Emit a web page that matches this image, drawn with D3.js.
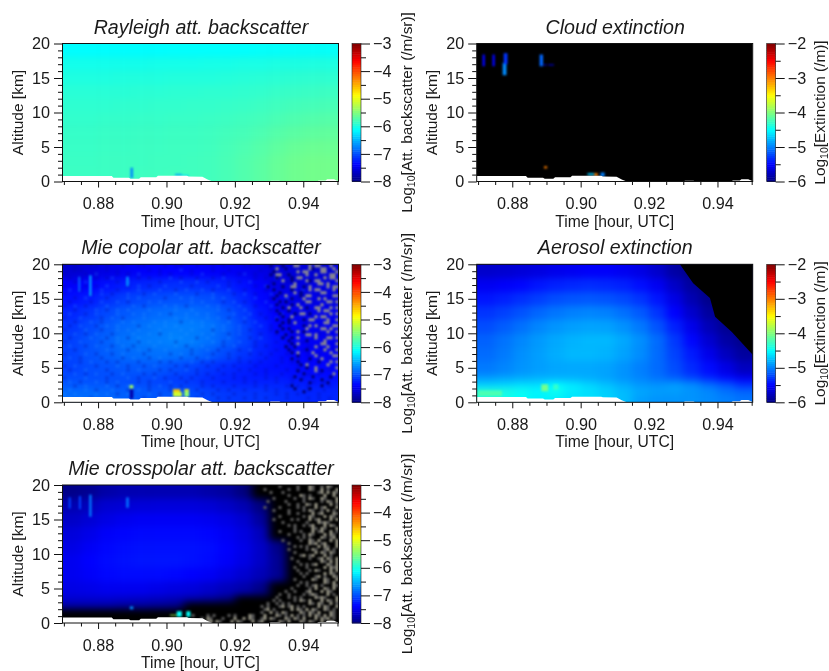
<!DOCTYPE html>
<html lang="en">
<head>
<meta charset="utf-8"/>
<script src="https://d3js.org/d3.v7.min.js"></script>
<style>
    body { margin: 0; background: #fff; }
    svg { display: block; filter: blur(0.35px); }
    text { font-family: "Liberation Sans", sans-serif; fill: #1a1a1a; }
    .tick line { stroke: #111; }
</style>
</head>
<body>
<svg id="chart" width="829" height="671"></svg>
<script>
// time / altitude edges of the coarse value grids
const gridTimes = [0.87, 0.875, 0.88, 0.885, 0.89, 0.895, 0.90, 0.905, 0.91, 0.915, 0.92, 0.925, 0.93, 0.935, 0.94, 0.945, 0.95];
const gridAlts = [20, 18, 16, 14, 12, 10, 8, 6, 4, 3, 2, 1, 0];

// log10 values, rows go from top (20 km) to the ground
const rayleighGrid = [
    [-6.13, -6.13, -6.13, -6.13, -6.13, -6.13, -6.12, -6.12, -6.12, -6.12, -6.12, -6.11, -6.11, -6.10, -6.10, -6.10],
    [-6.03, -6.03, -6.03, -6.03, -6.03, -6.02, -6.02, -6.02, -6.01, -6.01, -6.00, -6.00, -5.99, -5.99, -5.98, -5.98],
    [-5.98, -5.98, -5.98, -5.97, -5.97, -5.97, -5.96, -5.96, -5.96, -5.95, -5.94, -5.93, -5.92, -5.91, -5.90, -5.90],
    [-5.93, -5.93, -5.93, -5.93, -5.92, -5.92, -5.91, -5.91, -5.90, -5.90, -5.89, -5.88, -5.86, -5.85, -5.84, -5.83],
    [-5.90, -5.90, -5.90, -5.89, -5.89, -5.88, -5.88, -5.87, -5.87, -5.86, -5.85, -5.83, -5.81, -5.79, -5.78, -5.77],
    [-5.88, -5.88, -5.87, -5.87, -5.86, -5.86, -5.85, -5.85, -5.84, -5.83, -5.81, -5.79, -5.76, -5.74, -5.72, -5.71],
    [-5.86, -5.86, -5.85, -5.85, -5.84, -5.84, -5.83, -5.83, -5.82, -5.80, -5.78, -5.75, -5.71, -5.68, -5.66, -5.65],
    [-5.85, -5.85, -5.84, -5.84, -5.83, -5.83, -5.82, -5.82, -5.81, -5.78, -5.75, -5.71, -5.66, -5.62, -5.60, -5.60],
    [-5.84, -5.84, -5.83, -5.83, -5.83, -5.82, -5.82, -5.81, -5.80, -5.77, -5.73, -5.69, -5.63, -5.59, -5.57, -5.57],
    [-5.84, -5.84, -5.83, -5.83, -5.83, -5.82, -5.82, -5.81, -5.80, -5.77, -5.73, -5.68, -5.62, -5.58, -5.56, -5.56],
    [-5.83, -5.83, -5.83, -5.83, -5.82, -5.82, -5.81, -5.81, -5.80, -5.77, -5.73, -5.68, -5.62, -5.58, -5.56, -5.56],
    [-5.83, -5.83, -5.83, -5.83, -5.82, -5.82, -5.81, -5.81, -5.80, -5.77, -5.73, -5.68, -5.62, -5.58, -5.56, -5.56]
];
const copolarGrid = [
    [-7.60, -7.55, -7.50, -7.45, -7.40, -7.38, -7.38, -7.38, -7.40, -7.42, -7.45, -7.50, -7.55, -7.55, -7.55, -7.55],
    [-7.40, -7.38, -7.30, -7.25, -7.20, -7.18, -7.15, -7.15, -7.18, -7.22, -7.30, -7.40, -7.50, -7.50, -7.50, -7.50],
    [-7.30, -7.25, -7.15, -7.08, -7.03, -7.00, -6.98, -6.98, -7.00, -7.08, -7.20, -7.35, -7.45, -7.48, -7.48, -7.50],
    [-7.20, -7.12, -7.02, -6.95, -6.90, -6.86, -6.84, -6.84, -6.88, -6.97, -7.10, -7.28, -7.40, -7.45, -7.45, -7.45],
    [-7.12, -7.02, -6.94, -6.86, -6.82, -6.78, -6.76, -6.76, -6.80, -6.90, -7.05, -7.22, -7.35, -7.40, -7.45, -7.45],
    [-7.06, -6.98, -6.90, -6.82, -6.78, -6.76, -6.74, -6.76, -6.82, -6.92, -7.05, -7.20, -7.30, -7.38, -7.42, -7.45],
    [-7.05, -6.98, -6.92, -6.86, -6.84, -6.82, -6.82, -6.86, -6.94, -7.02, -7.12, -7.22, -7.30, -7.35, -7.40, -7.42],
    [-7.05, -7.00, -6.98, -6.95, -6.95, -6.95, -7.00, -7.05, -7.12, -7.18, -7.22, -7.28, -7.30, -7.32, -7.35, -7.35],
    [-7.00, -7.00, -7.00, -7.00, -7.02, -7.05, -7.10, -7.12, -7.18, -7.22, -7.25, -7.25, -7.25, -7.28, -7.30, -7.30],
    [-6.95, -6.95, -6.95, -6.98, -7.00, -7.02, -7.05, -7.08, -7.15, -7.18, -7.20, -7.20, -7.20, -7.22, -7.25, -7.25],
    [-6.85, -6.85, -6.88, -6.90, -6.92, -6.95, -6.95, -7.00, -7.05, -7.10, -7.12, -7.12, -7.15, -7.18, -7.20, -7.20],
    [-6.85, -6.85, -6.88, -6.90, -6.95, -6.95, -6.95, -7.00, -7.05, -7.10, -7.12, -7.12, -7.15, -7.18, -7.20, -7.20]
];
const crosspolarGrid = [
    [-7.95, -7.90, -7.80, -7.75, -7.75, -7.75, -7.75, -7.75, -7.80, -7.85, -8.00, -8.40, -9.00, -9.00, -9.00, -9.00],
    [-7.75, -7.70, -7.60, -7.58, -7.56, -7.55, -7.55, -7.55, -7.58, -7.65, -7.75, -8.00, -8.60, -9.00, -9.00, -9.00],
    [-7.65, -7.58, -7.50, -7.45, -7.42, -7.42, -7.42, -7.42, -7.45, -7.50, -7.60, -7.85, -8.40, -9.00, -9.00, -9.00],
    [-7.55, -7.48, -7.40, -7.36, -7.34, -7.34, -7.34, -7.34, -7.36, -7.42, -7.52, -7.70, -8.10, -8.80, -9.00, -9.00],
    [-7.50, -7.42, -7.35, -7.32, -7.30, -7.30, -7.30, -7.30, -7.32, -7.38, -7.48, -7.65, -7.95, -8.50, -9.00, -9.00],
    [-7.45, -7.38, -7.33, -7.30, -7.28, -7.28, -7.28, -7.30, -7.33, -7.40, -7.50, -7.65, -7.90, -8.30, -9.00, -9.00],
    [-7.45, -7.40, -7.35, -7.33, -7.33, -7.33, -7.35, -7.38, -7.42, -7.50, -7.60, -7.72, -7.90, -8.30, -9.00, -9.00],
    [-7.50, -7.48, -7.45, -7.45, -7.45, -7.48, -7.52, -7.55, -7.62, -7.70, -7.78, -7.95, -8.30, -8.90, -9.00, -9.00],
    [-7.60, -7.60, -7.60, -7.62, -7.65, -7.68, -7.72, -7.80, -7.88, -8.00, -8.20, -8.70, -9.00, -9.00, -9.00, -9.00],
    [-7.80, -7.80, -7.80, -7.85, -7.85, -7.90, -7.95, -8.05, -8.30, -8.70, -9.00, -9.00, -9.00, -9.00, -9.00, -9.00],
    [-8.60, -8.60, -8.70, -8.80, -8.80, -8.80, -8.70, -8.90, -9.00, -9.00, -9.00, -9.00, -9.00, -9.00, -9.00, -9.00],
    [-9.00, -9.00, -9.00, -9.00, -9.00, -9.00, -9.00, -9.00, -9.00, -9.00, -9.00, -9.00, -9.00, -9.00, -9.00, -9.00]
];
const aerosolGrid = [
    [-5.70, -5.68, -5.65, -5.62, -5.58, -5.55, -5.52, -5.52, -5.55, -5.60, -5.70, -5.85, -5.95, -6.00, -6.00, -6.00],
    [-5.55, -5.52, -5.48, -5.42, -5.38, -5.35, -5.33, -5.35, -5.38, -5.45, -5.55, -5.72, -5.88, -5.98, -6.00, -6.00],
    [-5.42, -5.38, -5.32, -5.26, -5.20, -5.17, -5.16, -5.18, -5.22, -5.30, -5.42, -5.60, -5.80, -5.95, -6.00, -6.00],
    [-5.30, -5.25, -5.18, -5.10, -5.04, -5.00, -4.98, -5.00, -5.06, -5.15, -5.30, -5.50, -5.70, -5.88, -5.98, -6.00],
    [-5.20, -5.14, -5.06, -4.98, -4.92, -4.88, -4.86, -4.87, -4.93, -5.03, -5.18, -5.38, -5.58, -5.78, -5.92, -5.98],
    [-5.12, -5.05, -4.97, -4.90, -4.84, -4.80, -4.78, -4.78, -4.84, -4.94, -5.08, -5.28, -5.48, -5.68, -5.85, -5.95],
    [-5.08, -5.02, -4.94, -4.88, -4.82, -4.78, -4.78, -4.80, -4.86, -4.95, -5.08, -5.24, -5.40, -5.58, -5.75, -5.88],
    [-5.02, -4.98, -4.92, -4.88, -4.85, -4.84, -4.84, -4.86, -4.92, -5.00, -5.08, -5.20, -5.34, -5.46, -5.60, -5.75],
    [-4.88, -4.85, -4.82, -4.80, -4.80, -4.80, -4.82, -4.86, -4.92, -4.98, -5.05, -5.12, -5.22, -5.34, -5.45, -5.55],
    [-4.68, -4.66, -4.62, -4.62, -4.50, -4.58, -4.66, -4.74, -4.82, -4.90, -4.92, -4.88, -4.94, -5.06, -5.16, -5.30],
    [-4.35, -4.38, -4.45, -4.52, -4.45, -4.58, -4.62, -4.68, -4.76, -4.84, -4.88, -4.88, -4.92, -4.96, -5.05, -5.10],
    [-4.40, -4.45, -4.50, -4.55, -4.55, -4.60, -4.62, -4.68, -4.76, -4.88, -4.92, -4.92, -4.92, -4.96, -5.00, -5.05]
];

// small features: [t0, t1, z0, z1, value]
const rayleighSpots = [[0.8895, 0.8902, 0.5, 2.0, -6.75], [0.9025, 0.9045, 0.85, 1.1, -6.6], [0.9045, 0.9065, 0.75, 0.95, -6.3]];
const cloudSpots = [
    [0.8713, 0.8720, 16.7, 18.4, -5.5], [0.8742, 0.8749, 16.7, 18.4, -5.5], [0.8772, 0.8783, 15.4, 17.2, -4.95],
    [0.8775, 0.8786, 17.0, 18.6, -5.3], [0.8880, 0.8890, 16.7, 18.4, -5.1], [0.8892, 0.8900, 16.8, 17.0, -5.7],
    [0.8905, 0.8922, 16.8, 17.0, -5.8], [0.8893, 0.8902, 1.9, 2.2, -3.0], [0.9020, 0.9040, 0.9, 1.2, -4.7],
    [0.9040, 0.9050, 0.8, 1.2, -3.0], [0.9058, 0.9070, 0.7, 1.3, -5.0]
];
const copolarSpots = [
    [0.8742, 0.8748, 16.0, 18.2, -6.9], [0.8774, 0.8781, 15.4, 18.4, -6.6], [0.8882, 0.8890, 16.8, 18.2, -6.7],
    [0.8893, 0.8903, 0.5, 1.9, -7.8], [0.8892, 0.8903, 2.0, 2.5, -5.3], [0.9019, 0.9045, 0.8, 1.5, -5.1],
    [0.9019, 0.9040, 1.5, 1.9, -4.6], [0.9052, 0.9066, 0.8, 1.6, -5.4], [0.9052, 0.9066, 1.6, 1.9, -5.0]
];
const crosspolarSpots = [
    [0.8714, 0.8720, 16.6, 18.2, -7.05], [0.8744, 0.8750, 16.5, 18.4, -7.05], [0.8774, 0.8781, 15.4, 18.6, -6.8],
    [0.8882, 0.8890, 16.7, 18.2, -6.85], [0.8893, 0.8903, 2.0, 2.4, -6.7], [0.9030, 0.9045, 0.9, 1.7, -6.1],
    [0.9058, 0.9070, 0.9, 1.7, -6.1], [0.9010, 0.9030, 1.05, 1.2, -5.3]
];
const aerosolSpots = [[0.8885, 0.8905, 1.6, 2.6, -4.05], [0.8920, 0.8935, 1.8, 2.6, -4.3], [0.8700, 0.8770, 0.9, 1.7, -4.2]];

// surface (white below the first range gate)
const surfaceTimes = [0.8696, 0.884, 0.8845, 0.889, 0.8895, 0.892, 0.8925, 0.897, 0.8975, 0.906, 0.9065, 0.9105, 0.912, 0.9135, 0.93, 0.9305, 0.933, 0.9335, 0.944, 0.9445, 0.9465, 0.947, 0.949, 0.9503];
const surfaceAlts = [0.78, 0.78, 0.55, 0.55, 0.4, 0.4, 0.62, 0.62, 0.82, 0.82, 0.72, 0.68, 0.3, 0, 0, 0.1, 0.1, 0, 0, 0.15, 0.15, 0.32, 0.32, 0.05];

// no-retrieval corner of aerosol extinction
const noDataTimes = [0.9290, 0.9329, 0.9378, 0.9393, 0.9442, 0.9503];
const noDataAlts = [20, 17.25, 15.1, 12.4, 10.2, 6.9];

// speckle, 3 px cells, rows top down and right aligned: # grey, + dim grey, d dark
const copolarSpeckle = [
    "..d...d...##...#.##...#..",
    "....#..d.......#d..##..#.",
    "...d.......#.##....##...#",
    "..d.##..d.....#..#....##.",
    "....d....d.##.......#.##.",
    "......#..d....#d.##.....#",
    "...d......#.......##.#...",
    ".d....d..##..d.#.....#.##",
    "...d.....d.....#.##....#.",
    ".....d....#.d......##....",
    "....d..#....d.##.......##",
    "...d.....d...#....#.#....",
    ".....d.d......##.....##.#",
    "....d....d.#.......#.....",
    "......d.#...#.d..##...#.#",
    "....d...d.........#.##...",
    ".....d....d.##.d......#.#",
    "......d..#.......#.##....",
    "....d...d....d.##....#..#",
    "......d.d.#.........##...",
    ".....d.......d.#.#.....##",
    "......d.d.....#....##.#..",
    "....d....d.#.d.......#..#",
    ".......d......##.#.......",
    "......d..d.#.....#...##.#",
    "........d.....d.....#....",
    ".........d.#.......##...#",
    ".......d..d......#...#...",
    "........d.....d.....#...#",
    ".........d.#....#.....#..",
    "...........d.....#.....##",
    ".........d.....d...#.....",
    "...........d......d...#.#",
    "............d.#......#...",
    "..............d..#......#",
    "...........d.....#.d.....",
    ".............d.........#.",
    "..........d.....d.....d..",
    "............d......d.....",
    "...............d.....d...",
    ".........d.........d.....",
    "..........d....d.........",
    ".............d...........",
    ".........................",
    ".........................",
    "........................."
];
const crosspolarSpeckle = [
    "......+.....+...#+..+.#+..",
    ".+.......+..+...#+..#.+..#",
    "...+...+...........+#.#.#+",
    ".........+...#+.+....#..#.",
    "....+......+..+.#+..#+...#",
    "..+.....+.....+.....+.#+.#",
    ".........+..+..#+.#....#.+",
    ".+....+.....+.+...#.+#...#",
    "....+....+....+.#+..+.#.+.",
    ".........+..+....#.+#...#+",
    "......+.......+.#+...#.#+.",
    "....+.....+.+...#.+#...#.#",
    ".......+.......+...#+#+...",
    ".........+.+..+.+#...#.#+.",
    "...........+.....#+.#+...#",
    "......+....+.+...#.+#..#.+",
    ".........+....+.#+...#.#+.",
    "............+.+.+...#+.+#.",
    ".......+.....+..#+.#...#.#",
    ".........+......#+#.+#...#",
    "...........+.+.+...#.#+..#",
    ".........+.....+.#+..+#.+.",
    "...........+......#.#+.#+.",
    ".............+#.+#...#.+..",
    "..........+.....+..+#.#+.#",
    "............+.......#+.#.#",
    ".............+.+.+#...#+.#",
    "...........+...+.....#.#+#",
    "............+...+.#+...#.#",
    ".............+.+.....#.#+.",
    "..............+...+#.+..#+",
    "...........+.....#+..#+..#",
    ".............+.+.....#+.#.",
    "............+..+.+#.+...#+",
    "..........+.....+.#..#+.#.",
    "........+..+...+#...#.#+..",
    "......+..+....+.+#+...#.+.",
    ".....+...+.+.+....#+#+...#",
    "....+.+....+.#+.#...#.#+.#",
    "..+..+.+.+......#+.#+..#.+",
    "+.+...+#.+#.+.+....#.#+..#",
    ".+#.+.....#.#+.#.#+..#+.+.",
    "+..#.+.#+....#+.#+.#...#+.",
    ".#...#+.+.#.+.+.#.#+.#.#+.",
    "+#.#+...#+.#+.#...#.#+#.+.",
    "#.....#+.#...#+.#+..#..#.."
];
const crosspolarLowSpeckle = [
    "+....+.+....+.+....#+..",
    "...+.#+...+...#..#.#+..",
    "#.+..+#.#+...#.#+...#.+"
];
// fine grain of the copolar panel, 5.3 x 4 px cells: l lighter, k darker
const copolarMottle = [
    "k.k..kk.k..k..kk...k.kk..k..k.k...kk..k..k.k..k.kk..",
    "..kk....k.k.....k.k...l.k...k..k.....k.kk...k...k.k.",
    "k...k.l...k.k.l...k.k...k.l...k..kl.k.....k..k.k...k",
    ".k.k..k.kl....k.k...l.k..k..k.l.....k.k.l..k...k.k..",
    "..k.l.....k.l.....k...l..l.k...k.k.l...k..k.k.k...k.",
    "k...k.k.l...k.l.k..l....k....l.k....k.l..k....k.k...",
    ".l.k...l..k...l...l..k.l..l.k..l..k...k....k.l...k.k",
    "k....k.l.k..l..k.l...l...k..l...k.l.k..l.k...k..k...",
    "..k.l...k...l.l....k..l.l...l.l.....l..k..l.k...k.k.",
    ".k...k.l..l.k...l.l.....l.l...k.l.k...l...k..k.k...k",
    "k.l.k...l....l.k...l.l.k...l.l...l..k..l.k..k...k.k.",
    "..k...l.k.l.l...l....l..l....l.k..l....k..k...k.k...",
    ".l..k.l...l..l.l..l.k..l.l.l....l..l.k...l..k.k...k.",
    "k..l...k.l.k...l.....l.l...l.l.k..l...k.l..k...k.k..",
    "..k..l.k...l.l...l.l..k.l.l....l..k.l....k..k.k...k.",
    ".k.l..k.l.l...k.l..l.l....l.l.l..l...l.k...k..k.k...",
    "k...l..k..l.l.l...l...l.l...k.l..l.k...k.k..k.....k.",
    "..l.k.l..k...l..l.k.l..l..l.l..k.l...k..k...k.k.k...",
    ".k...l..k.l.k.l.....l.l..k.l...l...k.l...k.k...k..k.",
    "k..l...k..l...k.l.l..k..l...l.k..l..k...k..k.k...k..",
    ".l..k.l..k.l.k...l...l.k..l...k.l...k.k...k...k.k...",
    "..k.....l...k.l.k..l....k..l.k...k.l....k..k.k...k.k",
    "k...l.k..k.l...k....k.l.k...k..k...k.k.k..k...k.k...",
    ".l.k...k...k.l..k.l...k..k.l...k.k....k..k..k...k.k.",
    "...k.l..k.k...k...k.k...l.k.k....k.k.k...k.k..k.k...",
    "k.l...k...l.k..k.l...k.k...k..k.k...k...k...k.k...k.",
    ".k..l...k...k.l...k.k..l.k...k...k.k..k...k.k...k.k.",
    "..l.k.l..k.l...k.k...k...k.k..k.k...k.k..k....k.k...",
    "k...l...k...l.k..l.k..k.k...k...k.k...k.k..k.k....k.",
    ".l.k..l.k.l...k.k...l..k..k...k...k.k...k..k...k.k..",
    "..k.l...l.k.l...k.l.k.k...k.k...k...k.k...k.k.k...k.",
    ".l..l.k..l..k.l.k...k..k.k...k.k..k...k.k.....k..k..",
    "l.l...l.l.k.l...l.k..k....k.k...k...k...k.k.k...k...",
    ".l.l.k...l...l.k..k.k..k.k...k.k..k.k.k...k...k.k.k."
];
const speckleDt = 0.000877;
const speckleDz = 20 / 46;

// axes
const majorTimes = [0.88, 0.90, 0.92, 0.94];
const minorTimes = [0.87, 0.875, 0.885, 0.89, 0.895, 0.905, 0.91, 0.915, 0.925, 0.93, 0.935, 0.945, 0.95];
const majorAlts = [0, 5, 10, 15, 20];
const minorAlts = [1, 2, 3, 4, 6, 7, 8, 9, 11, 12, 13, 14, 16, 17, 18, 19];
const timeDomain = [0.8696, 0.9503];
const altDomain = [0, 20];
const backscatterRange = [-8, -3];
const extinctionRange = [-6, -2];
const jetColors = ["#00007f", "#0000ff", "#00ffff", "#ffff00", "#ff0000", "#7f0000"];
const jetStops = [0, 0.125, 0.375, 0.625, 0.875, 1];
const speckleColors = {"#": "#9a9888", "+": "#5a5a5a", "d": "#000070"};

const panels = [
    {title: "Rayleigh att. backscatter", grid: rayleighGrid, spots: rayleighSpots, range: backscatterRange, unit: "[Att. backscatter (/m/sr)]", left: 62.5, top: 43.5, barLeft: 352, labelX: 412},
    {title: "Cloud extinction", grid: null, spots: cloudSpots, range: extinctionRange, unit: "[Extinction (/m)]", left: 476.7, top: 43.5, barLeft: 766.7, labelX: 825},
    {title: "Mie copolar att. backscatter", grid: copolarGrid, spots: copolarSpots, speckle: copolarSpeckle, mottle: copolarMottle, range: backscatterRange, unit: "[Att. backscatter (/m/sr)]", left: 62.5, top: 264.3, barLeft: 352, labelX: 412},
    {title: "Aerosol extinction", grid: aerosolGrid, spots: aerosolSpots, noData: true, range: extinctionRange, unit: "[Extinction (/m)]", left: 476.7, top: 264.3, barLeft: 766.7, labelX: 825},
    {title: "Mie crosspolar att. backscatter", grid: crosspolarGrid, spots: crosspolarSpots, speckle: crosspolarSpeckle, lowSpeckle: crosspolarLowSpeckle, range: backscatterRange, unit: "[Att. backscatter (/m/sr)]", left: 62.5, top: 485, barLeft: 352, labelX: 412}
];

const width = 276, height = 138, barWidth = 9;
const svg = d3.select("#chart");
const defs = svg.append("defs");
addBlur("smooth", "5 3.5");
addBlur("soft", "0.9");

function addBlur(id, std) {
    defs.append("filter").attr("id", id)
        .attr("x", "-10%").attr("y", "-10%").attr("width", "120%").attr("height", "120%")
        // sRGB or the dark blues band badly
        .attr("color-interpolation-filters", "sRGB")
        .append("feGaussianBlur").attr("stdDeviation", std);
}

const x = d3.scaleLinear().domain(timeDomain).range([0, width]);
const y = d3.scaleLinear().domain(altDomain).range([height, 0]);

panels.forEach((p, i) => drawPanel(p, i));

function drawPanel(p, i) {
    const g = svg.append("g").attr("transform", `translate(${p.left},${p.top})`);

    // jet scale, anything under the range is black
    const [lo, hi] = p.range;
    const jet = d3.scaleLinear().domain(jetStops.map(s => lo + s * (hi - lo))).range(jetColors).clamp(true);
    const color = v => v < lo ? "#000" : jet(v);

    defs.append("clipPath").attr("id", "clip" + i).append("rect").attr("width", width).attr("height", height);
    const plot = g.append("g").attr("clip-path", `url(#clip${i})`);
    plot.append("rect").attr("width", width).attr("height", height).attr("fill", "#000");

    if (p.grid) {
        const cells = [];
        p.grid.forEach((row, r) => row.forEach((v, c) => cells.push({r, c, v})));
        plot.append("g").attr("filter", "url(#smooth)")
            .selectAll("rect").data(cells).enter().append("rect")
            // outer cells run past the frame so the blur does not fade at the edges
            .attr("x", d => d.c === 0 ? -20 : x(gridTimes[d.c]))
            .attr("width", d => (d.c === 15 ? width + 20 : x(gridTimes[d.c + 1])) - (d.c === 0 ? -20 : x(gridTimes[d.c])) + 0.5)
            .attr("y", d => d.r === 0 ? -20 : y(gridAlts[d.r]))
            .attr("height", d => (d.r === 11 ? height + 20 : y(gridAlts[d.r + 1])) - (d.r === 0 ? -20 : y(gridAlts[d.r])) + 0.5)
            .attr("fill", d => color(d.v));
    }

    if (p.mottle) {
        const grains = [];
        p.mottle.forEach((row, r) => row.split("").forEach((ch, k) => {
            if (ch !== ".") grains.push({r, k, ch});
        }));
        plot.append("g").attr("filter", "url(#soft)")
            .selectAll("rect").data(grains).enter().append("rect")
            .attr("x", d => d.k * 5.3)
            .attr("y", d => d.r * 4)
            .attr("width", 4)
            .attr("height", 3.4)
            .attr("fill", d => d.ch === "l" ? "#30a0ff" : "#0008a0")
            .attr("opacity", d => d.ch === "l" ? 0.16 : 0.22);
    }

    if (p.noData) {
        plot.append("path")
            .datum(noDataTimes.map((t, k) => [t, noDataAlts[k]]))
            .attr("fill", "#000")
            .attr("d", d3.area().x(d => x(d[0])).y0(y(20) - 2).y1(d => y(d[1])));
    }

    if (p.speckle) {
        const dots = [];
        p.speckle.forEach((row, r) => row.split("").forEach((ch, k) => {
            if (ch !== ".") dots.push({r, col: row.length - k, ch});
        }));
        (p.lowSpeckle || []).forEach((row, r) => row.split("").forEach((ch, k) => {
            if (ch !== ".") dots.push({r: 43 + r, col: 26 + row.length - k, ch});
        }));
        plot.append("g").attr("filter", "url(#soft)")
            .selectAll("rect").data(dots).enter().append("rect")
            .attr("x", d => x(timeDomain[1] - d.col * speckleDt))
            .attr("y", d => y(20 - d.r * speckleDz))
            .attr("width", x(speckleDt) - x(0))
            .attr("height", y(0) - y(speckleDz))
            .attr("fill", d => speckleColors[d.ch]);
    }

    plot.append("g").attr("filter", "url(#soft)")
        .selectAll("rect").data(p.spots).enter().append("rect")
        .attr("x", d => x(d[0]))
        .attr("width", d => x(d[1]) - x(d[0]))
        .attr("y", d => y(d[3]))
        .attr("height", d => y(d[2]) - y(d[3]))
        .attr("fill", d => color(d[4]));

    plot.append("path")
        .datum(surfaceTimes.map((t, k) => [t, surfaceAlts[k]]))
        .attr("fill", "#fff")
        .attr("d", d3.area().x(d => x(d[0])).y0(height + 1).y1(d => y(d[1])));

    g.append("rect").attr("width", width).attr("height", height).attr("fill", "none").attr("stroke", "#111").attr("stroke-width", 1);

    // axes, major and minor ticks
    const xg = g.append("g").attr("transform", `translate(0,${height})`);
    xg.append("g").call(d3.axisBottom(x).tickValues(minorTimes).tickSize(3.5).tickFormat(""));
    const xMajor = xg.append("g").call(d3.axisBottom(x).tickValues(majorTimes).tickSize(6).tickPadding(10).tickFormat(d3.format(".2f")));
    const yg = g.append("g");
    yg.append("g").call(d3.axisLeft(y).tickValues(minorAlts).tickSize(4.5).tickFormat(""));
    const yMajor = yg.append("g").call(d3.axisLeft(y).tickValues(majorAlts).tickSize(8.5).tickPadding(4));
    g.selectAll(".domain").remove();
    [xMajor, yMajor].forEach(a => a.selectAll("text").style("font-size", "16.2px"));

    g.append("text").attr("x", width / 2 + 0.5).attr("y", -10).attr("text-anchor", "middle")
        .style("font-size", "19.6px").style("font-style", "italic").text(p.title);
    g.append("text").attr("x", width / 2).attr("y", height + 45).attr("text-anchor", "middle")
        .style("font-size", "15.7px").text("Time [hour, UTC]");
    g.append("text").attr("transform", `translate(-40,${height / 2}) rotate(-90)`).attr("text-anchor", "middle")
        .style("font-size", "15.5px").text("Altitude [km]");

    // colour bar
    const bar = svg.append("g").attr("transform", `translate(${p.barLeft},${p.top})`);
    const barY = d3.scaleLinear().domain(p.range).range([height, 0]);
    const levels = d3.range(lo, hi, (hi - lo) / 64);
    bar.selectAll("rect").data(levels).enter().append("rect")
        .attr("width", barWidth)
        .attr("y", d => barY(d + (hi - lo) / 64))
        .attr("height", height / 64 + 0.5)
        .attr("fill", d => jet(d + (hi - lo) / 128));
    bar.append("rect").attr("width", barWidth).attr("height", height).attr("fill", "none").attr("stroke", "#222").attr("stroke-width", 0.6);
    const majors = d3.range(lo, hi + 0.5, 1);
    const minors = d3.range(lo + 0.5, hi, 1);
    const barAxes = bar.append("g").attr("transform", `translate(${barWidth},0)`);
    barAxes.append("g").call(d3.axisRight(barY).tickValues(minors).tickSize(5).tickFormat(""));
    const barMajor = barAxes.append("g").call(d3.axisRight(barY).tickValues(majors).tickSize(9).tickPadding(3).tickFormat(d => "\u2212" + Math.abs(d)));
    barMajor.selectAll("text").style("font-size", "16.2px");
    bar.selectAll(".domain").remove();

    const label = svg.append("text")
        .attr("transform", `translate(${p.labelX},${p.top + height / 2}) rotate(-90)`)
        .attr("text-anchor", "middle")
        .style("font-size", "15.4px");
    label.append("tspan").text("Log");
    label.append("tspan").attr("dy", 2.5).style("font-size", "10.5px").text("10");
    label.append("tspan").attr("dy", -2.5).text(p.unit);
}
</script>
</body>
</html>
